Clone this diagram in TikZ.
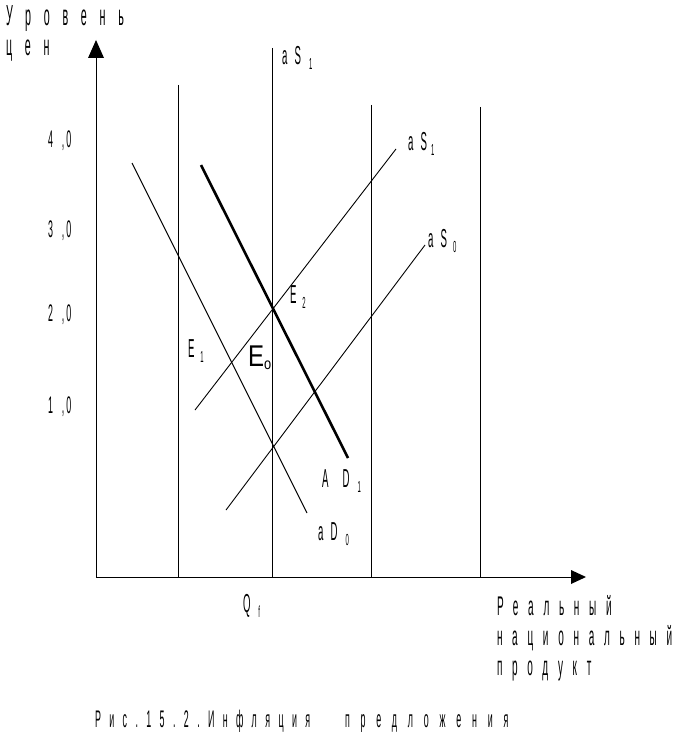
\documentclass[tikz,border=0pt]{standalone}
\usepackage{fontspec}
\newfontfamily\nf[FakeStretch=0.37]{Liberation Sans}
\newfontfamily\nfw[FakeStretch=0.8]{Liberation Sans}
\newcommand\fylab{\fontsize{29}{29}\selectfont\nf\addfontfeatures{LetterSpace=44}}
\newcommand\ftick{\fontsize{24}{24}\selectfont\nf}
\newcommand\fxlab{\fontsize{27}{27}\selectfont\nf\addfontfeatures{LetterSpace=36}}
\newcommand\fcap{\fontsize{24}{24}\selectfont\nf\addfontfeatures{LetterSpace=35}}
\newcommand\fcapb{\fontsize{24}{24}\selectfont\nf\addfontfeatures{LetterSpace=45}}
\newcommand\fgr{\fontsize{26}{26}\selectfont\nf\addfontfeatures{LetterSpace=28}}
\newcommand\fsub{\fontsize{16}{16}\selectfont\nf}
\newcommand\sub[2][5pt]{\hspace{#1}\raisebox{-5pt}{\fsub #2}}
\begin{document}
\begin{tikzpicture}[x=1pt,y=-1pt,
  ln/.style={line width=0.9pt,black},
  thk/.style={line width=2.6pt,black},
  lbl/.style={anchor=base west,inner sep=0pt,outer sep=0pt}]
\useasboundingbox (0,0) rectangle (675,741);
% axes
\coordinate (O) at (96,577);
\coordinate (Ytop) at (96,58);
\coordinate (Xend) at (571,577);
\draw[ln] (O) -- (Ytop);
\draw[ln] (O) -- (Xend);
\fill (88,58) -- (96,40) -- (104,58) -- cycle;
\fill (571,570) -- (586,577) -- (571,584) -- cycle;
% vertical lines
\coordinate (v1t) at (178,85);  \coordinate (v1b) at (178,577);
\coordinate (v2t) at (272,48);  \coordinate (v2b) at (272,577);
\coordinate (v3t) at (371,105); \coordinate (v3b) at (371,577);
\coordinate (v4t) at (480,107); \coordinate (v4b) at (480,577);
\draw[ln] (v1t) -- (v1b);
\draw[ln] (v2t) -- (v2b);
\draw[ln] (v3t) -- (v3b);
\draw[ln] (v4t) -- (v4b);
% curves
\coordinate (s1a) at (195,410); \coordinate (s1b) at (396,149);
\coordinate (s0a) at (226,510); \coordinate (s0b) at (425,245);
\coordinate (d1a) at (201,165); \coordinate (d1b) at (348,458);
\coordinate (d0a) at (132,163); \coordinate (d0b) at (307,513);
\draw[ln] (s1a) -- (s1b);
\draw[ln] (s0a) -- (s0b);
\draw[ln] (d0a) -- (d0b);
\draw[thk] (d1a) -- (d1b);
% axis labels
\node[lbl] (yl1) at (6,26) {\fylab Уровень};
\node[lbl] (yl2) at (6,56) {\fylab цен};
\node[lbl] (t4) at (48,147) {\ftick 4\hspace{9pt},\hspace{2pt}0};
\node[lbl] (t3) at (48,237) {\ftick 3\hspace{9pt},\hspace{2pt}0};
\node[lbl] (t2) at (48,321) {\ftick 2\hspace{9pt},\hspace{2pt}0};
\node[lbl] (t1) at (48,413) {\ftick 1\hspace{9pt},\hspace{2pt}0};
\node[lbl] (xl1) at (497,615) {\fxlab Реальный};
\node[lbl] (xl2) at (497,645) {\fxlab национальный};
\node[lbl] (xl3) at (497,675) {\fxlab продукт};
\node[lbl] (cap) at (95,727) {\fcap Рис.15.2.Инфляция};
\node[lbl] (capb) at (345,727) {\fcapb предложения};
% graph labels
\node[lbl] (laS1t) at (282,65) {\fgr aS\sub[8pt]{1}};
\node[lbl] (laS1) at (408,150) {\fgr aS\sub[4pt]{1}};
\node[lbl] (laS0) at (428,247) {\fgr aS\sub[6pt]{0}};
\node[lbl] (lE2) at (290,303) {\fgr E\sub[6pt]{2}};
\node[lbl] (lE1) at (188,357) {\fgr E\sub[6pt]{1}};
\node[lbl] (lE0) at (248,366) {\fontsize{30}{30}\selectfont\nfw E\raisebox{-3pt}{\fontsize{16}{16}\selectfont o}};
\node[lbl] (lAD1) at (322,487) {\fgr\addfontfeatures{LetterSpace=55}AD\sub[8pt]{1}};
\node[lbl] (laD0) at (318,540) {\fgr aD\sub[8pt]{0}};
\node[lbl] (lQf) at (243,612) {\fgr Q\sub[8pt]{f}};
\end{tikzpicture}
\end{document}
